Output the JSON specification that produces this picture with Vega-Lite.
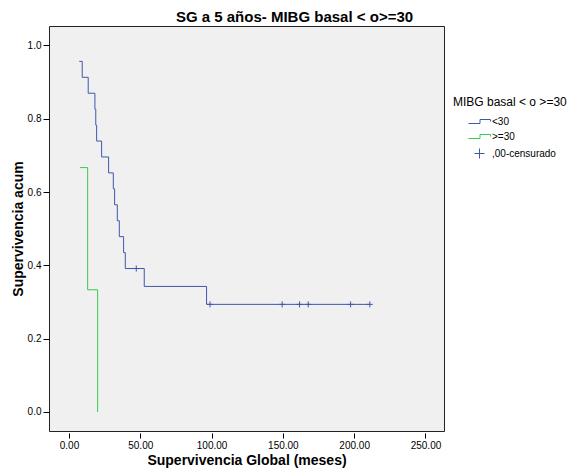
{
  "$schema": "https://vega.github.io/schema/vega-lite/v6.json",
  "autosize": {"type": "none"},
  "padding": {"left": 49, "top": 26, "right": 134, "bottom": 40},
  "width": 395,
  "height": 405,
  "background": "white",
  "title": {
    "text": "SG a 5 años- MIBG basal < o>=30",
    "font": "Liberation Sans",
    "fontSize": 15,
    "fontWeight": "bold",
    "color": "#000000",
    "anchor": "middle",
    "dx": 48,
    "offset": 1
  },
  "config": {
    "view": {"fill": "#F0F0F0", "stroke": "#222222", "strokeWidth": 1},
    "axis": {
      "domain": false,
      "grid": false,
      "tickColor": "#000000",
      "labelFont": "Liberation Sans",
      "labelFontSize": 10,
      "labelColor": "#000000",
      "titleFont": "Liberation Sans",
      "titleFontSize": 14,
      "titleFontWeight": "bold",
      "titleColor": "#000000"
    },
    "legend": {
      "titleFont": "Liberation Sans",
      "titleFontSize": 12,
      "titleFontWeight": "normal",
      "titleColor": "#000000",
      "labelFont": "Liberation Sans",
      "labelFontSize": 10,
      "labelColor": "#000000",
      "symbolSize": 100,
      "symbolStrokeWidth": 1,
      "symbolFillColor": "transparent",
      "symbolOffset": 21,
      "labelOffset": 7,
      "rowPadding": 4,
      "titlePadding": 7,
      "padding": 0
    }
  },
  "datasets": {
    "curves": [
      {"grupo": "<30", "t": 7.2, "s": 0.9565},
      {"grupo": "<30", "t": 9.3, "s": 0.9130},
      {"grupo": "<30", "t": 13.5, "s": 0.8696},
      {"grupo": "<30", "t": 18.2, "s": 0.8261},
      {"grupo": "<30", "t": 18.8, "s": 0.7826},
      {"grupo": "<30", "t": 19.4, "s": 0.7391},
      {"grupo": "<30", "t": 22.9, "s": 0.6957},
      {"grupo": "<30", "t": 27.8, "s": 0.6522},
      {"grupo": "<30", "t": 31.1, "s": 0.6087},
      {"grupo": "<30", "t": 32.0, "s": 0.5652},
      {"grupo": "<30", "t": 33.9, "s": 0.5217},
      {"grupo": "<30", "t": 35.3, "s": 0.4783},
      {"grupo": "<30", "t": 38.3, "s": 0.4348},
      {"grupo": "<30", "t": 39.5, "s": 0.3913},
      {"grupo": "<30", "t": 52.8, "s": 0.3424},
      {"grupo": "<30", "t": 96.5, "s": 0.2935},
      {"grupo": "<30", "t": 211.0, "s": 0.2935},
      {"grupo": ">=30", "t": 7.7, "s": 0.6667},
      {"grupo": ">=30", "t": 13.1, "s": 0.3333},
      {"grupo": ">=30", "t": 20.1, "s": 0.0}
    ],
    "censored": [
      {"grupo": ",00-censurado", "t": 47.2, "s": 0.3913},
      {"grupo": ",00-censurado", "t": 98.9, "s": 0.2935},
      {"grupo": ",00-censurado", "t": 149.5, "s": 0.2935},
      {"grupo": ",00-censurado", "t": 161.7, "s": 0.2935},
      {"grupo": ",00-censurado", "t": 167.8, "s": 0.2935},
      {"grupo": ",00-censurado", "t": 197.5, "s": 0.2935},
      {"grupo": ",00-censurado", "t": 211.0, "s": 0.2935}
    ]
  },
  "layer": [
    {
      "data": {"name": "curves"},
      "mark": {"type": "line", "interpolate": "step-after", "strokeWidth": 1},
      "encoding": {
        "x": {
          "field": "t",
          "type": "quantitative",
          "scale": {"domain": [-14, 263], "nice": false, "zero": false},
          "axis": {
            "values": [0, 50, 100, 150, 200, 250],
            "format": ".2f",
            "title": "Supervivencia Global (meses)",
            "offset": 2,
            "tickSize": 5,
            "labelPadding": 2,
            "titlePadding": 3,
            "labelFlush": false
          }
        },
        "y": {
          "field": "s",
          "type": "quantitative",
          "scale": {"domain": [-0.052, 1.053], "nice": false, "zero": false},
          "axis": {
            "values": [0, 0.2, 0.4, 0.6, 0.8, 1.0],
            "format": ".1f",
            "title": "Supervivencia acum",
            "tickSize": 6,
            "labelPadding": 2,
            "titlePadding": 2,
            "labelFlush": false
          }
        },
        "color": {
          "field": "grupo",
          "type": "nominal",
          "scale": {"domain": ["<30", ">=30"], "range": ["#3E58AC", "#3CC850"]},
          "legend": null
        }
      }
    },
    {
      "data": {"name": "censored"},
      "mark": {"type": "point", "filled": false, "strokeWidth": 1, "size": 36, "opacity": 1},
      "encoding": {
        "x": {"field": "t", "type": "quantitative"},
        "y": {"field": "s", "type": "quantitative"},
        "color": {
          "field": "grupo",
          "type": "nominal",
          "scale": {"domain": ["<30", ">=30", ",00-censurado"], "range": ["#3E58AC", "#3CC850", "#3E58AC"]},
          "legend": {"title": "MIBG basal < o >=30", "orient": "none", "legendX": 404, "legendY": 71}
        },
        "shape": {
          "field": "grupo",
          "type": "nominal",
          "scale": {
            "domain": ["<30", ">=30", ",00-censurado"],
            "range": ["M-2.2,0.4H0.1V-0.4H2.2V0", "M-2.2,0.4H0.1V-0.4H2.2V0", "M-1,0H1M0,-1V1"]
          },
          "legend": {"title": "MIBG basal < o >=30", "orient": "none", "legendX": 404, "legendY": 71}
        }
      }
    }
  ],
  "resolve": {"scale": {"color": "independent", "shape": "independent"}}
}
